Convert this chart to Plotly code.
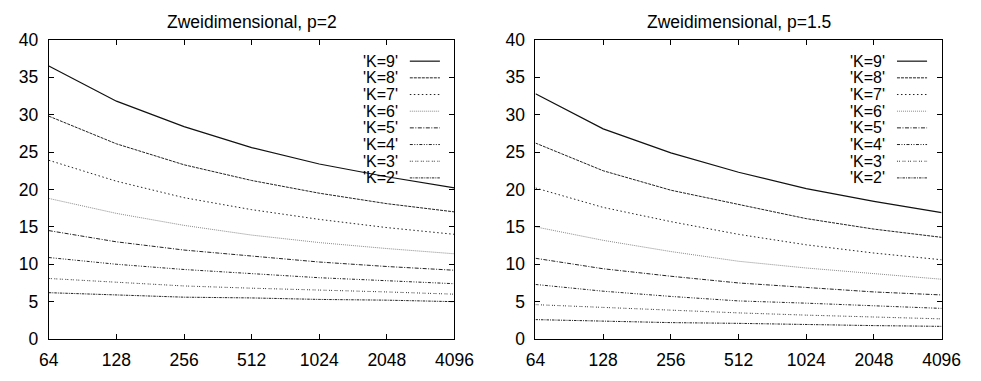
import plotly.graph_objects as go
import math

# ---- data ----
x_vals = [64, 128, 256, 512, 1024, 2048, 4096]
x_ticklabels = ["64", "128", "256", "512", "1024", "2048", "4096"]
y_ticks = [0, 5, 10, 15, 20, 25, 30, 35, 40]
series_names = ["'K=9'", "'K=8'", "'K=7'", "'K=6'", "'K=5'", "'K=4'", "'K=3'", "'K=2'"]
titles = ["Zweidimensional, p=2", "Zweidimensional, p=1.5"]

p2_k9 = [36.5, 31.8, 28.4, 25.6, 23.4, 21.7, 20.2]
p2_k8 = [29.8, 26.1, 23.3, 21.2, 19.5, 18.1, 17.0]
p2_k7 = [23.9, 21.1, 18.9, 17.3, 16.0, 14.9, 14.0]
p2_k6 = [18.8, 16.8, 15.2, 13.9, 12.9, 12.1, 11.4]
p2_k5 = [14.5, 13.0, 11.9, 11.1, 10.3, 9.7, 9.2]
p2_k4 = [10.9, 10.0, 9.3, 8.7, 8.2, 7.8, 7.4]
p2_k3 = [8.1, 7.6, 7.1, 6.8, 6.5, 6.3, 6.0]
p2_k2 = [6.2, 5.9, 5.6, 5.5, 5.3, 5.2, 5.0]

p15_k9 = [32.8, 28.1, 24.9, 22.3, 20.1, 18.4, 16.9]
p15_k8 = [26.2, 22.5, 19.9, 18.0, 16.1, 14.7, 13.6]
p15_k7 = [20.2, 17.6, 15.7, 14.0, 12.6, 11.5, 10.6]
p15_k6 = [15.0, 13.2, 11.7, 10.4, 9.5, 8.7, 8.0]
p15_k5 = [10.8, 9.4, 8.4, 7.5, 6.9, 6.3, 5.9]
p15_k4 = [7.3, 6.4, 5.7, 5.1, 4.8, 4.4, 4.1]
p15_k3 = [4.6, 4.2, 3.8, 3.5, 3.2, 2.9, 2.7]
p15_k2 = [2.6, 2.4, 2.2, 2.1, 1.9, 1.8, 1.7]

panels = [
    [p2_k9, p2_k8, p2_k7, p2_k6, p2_k5, p2_k4, p2_k3, p2_k2],
    [p15_k9, p15_k8, p15_k7, p15_k6, p15_k5, p15_k4, p15_k3, p15_k2],
]

# ---- styles ----
W, H = 981, 381
FONT = "Liberation Sans, Arial, sans-serif"
FS = 17.5
LEG_FS = 16
styles = [
    dict(color="#111111", dash="solid", width=1.2),
    dict(color="#222222", dash="3px,1px", width=1),
    dict(color="#222222", dash="1.5px,2.5px", width=1),
    dict(color="#8a8a8a", dash="1px,1px", width=1),
    dict(color="#222222", dash="4px,1.5px,1px,1.5px", width=1),
    dict(color="#222222", dash="3px,1.5px,1px,1.5px,1px,1.5px", width=1),
    dict(color="#333333", dash="1px,1px,1px,2.5px", width=1),
    dict(color="#222222", dash="2.5px,1px,1px,1px", width=1),
]

# plot areas in pixels
areas = [(40, 458), (541.5, 960)]
y_top_px, y_bot_px = 31.5, 347.3

fig = go.Figure()
layout_axes = {}
for i, (series, (xl, xr)) in enumerate(zip(panels, areas)):
    ax = "" if i == 0 else str(i + 1)
    for name, vals, st in zip(series_names, series, styles):
        fig.add_trace(go.Scatter(
            x=x_vals, y=vals, mode="lines", name=name,
            line=dict(color=st["color"], dash=st["dash"], width=st["width"]),
            xaxis="x" + ax, yaxis="y" + ax, showlegend=False, hoverinfo="skip",
        ))
    common = dict(showgrid=False, zeroline=False, showline=True, linecolor="#000",
                  linewidth=1, mirror="ticks", ticks="inside", ticklen=5,
                  tickcolor="#000", tickfont=dict(family=FONT, size=FS, color="#000"))
    layout_axes["xaxis" + ax] = dict(
        type="log", range=[math.log10(64), math.log10(4096)],
        tickvals=x_vals, ticktext=x_ticklabels, ticklabelstandoff=5,
        domain=[xl / W, xr / W], anchor="y" + ax, **common)
    layout_axes["yaxis" + ax] = dict(
        range=[0, 40], tickvals=y_ticks, ticklabelstandoff=6,
        domain=[1 - y_bot_px / H, 1 - y_top_px / H], anchor="x" + ax, **common)

annotations = []
shapes = []
for i, (xl, xr) in enumerate(areas):
    annotations.append(dict(
        text=titles[i], xref="paper", yref="paper",
        x=(xl + xr) / 2 / W, y=1 - 13 / H, xanchor="center", yanchor="middle",
        showarrow=False, font=dict(family=FONT, size=FS, color="#000")))
    text_right = xr - 57
    line_x0, line_x1 = xr - 46, xr - 15
    for j, (name, st) in enumerate(zip(series_names, styles)):
        yy = 54 + j * 17.6
        annotations.append(dict(
            text=name, xref="paper", yref="paper",
            x=text_right / W, y=1 - yy / H, xanchor="right", yanchor="middle",
            borderpad=0, showarrow=False,
            font=dict(family=FONT, size=LEG_FS, color="#000")))
        shapes.append(dict(
            type="line", xref="paper", yref="paper",
            x0=line_x0 / W, x1=line_x1 / W, y0=1 - yy / H, y1=1 - yy / H,
            line=dict(color=st["color"], dash=st["dash"], width=st["width"])))

fig.update_layout(
    width=W, height=H, margin=dict(l=0, r=0, t=0, b=0),
    paper_bgcolor="white", plot_bgcolor="white",
    annotations=annotations, shapes=shapes, showlegend=False,
    **layout_axes,
)
fig.write_html("out.html", config={"displayModeBar": False})
